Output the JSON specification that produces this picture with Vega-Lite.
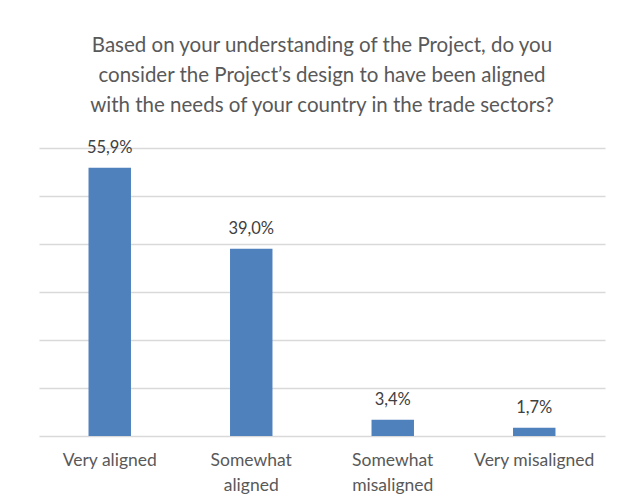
{
  "$schema": "https://vega.github.io/schema/vega-lite/v6.json",
  "autosize": "none",
  "padding": {"left": 39, "top": 148, "right": 17, "bottom": 66},
  "width": 566,
  "height": 288,
  "background": "white",
  "config": {"font": "Lato", "view": {"stroke": null}},
  "title": {
    "text": ["Based on your understanding of the Project, do you", "consider the Project’s design to have been aligned", "with the needs of your country in the trade sectors?"],
    "fontSize": 20.5,
    "fontWeight": "normal",
    "color": "#595959",
    "lineHeight": 30,
    "anchor": "middle",
    "offset": 23
  },
  "data": {
    "values": [
      {"category": "Very aligned", "value": 55.9},
      {"category": "Somewhat aligned", "value": 39.0},
      {"category": "Somewhat misaligned", "value": 3.4},
      {"category": "Very misaligned", "value": 1.7}
    ]
  },
  "transform": [
    {"calculate": "replace(format(datum.value, '.1f'), '.', ',') + '%'", "as": "label"}
  ],
  "encoding": {
    "x": {
      "field": "category",
      "type": "nominal",
      "sort": null,
      "scale": {"paddingInner": 0.7, "paddingOuter": 0.35},
      "axis": {
        "title": null,
        "labelAngle": 0,
        "domain": false,
        "ticks": false,
        "labelFontSize": 17.5,
        "labelColor": "#595959",
        "labelPadding": 15,
        "labelLineHeight": 25,
        "labelExpr": "indexof(datum.label, 'Somewhat') == 0 ? split(datum.label, ' ') : datum.label"
      }
    },
    "y": {
      "field": "value",
      "type": "quantitative",
      "scale": {"domain": [0, 60], "nice": false},
      "axis": {
        "title": null,
        "labels": false,
        "ticks": false,
        "domain": false,
        "values": [0, 10, 20, 30, 40, 50, 60],
        "gridColor": "#d9d9d9",
        "gridWidth": 1.3
      }
    }
  },
  "layer": [
    {"mark": {"type": "bar", "color": "#4f81bd"}},
    {
      "mark": {"type": "text", "baseline": "bottom", "dy": -12, "fontSize": 16.5, "color": "#404040"},
      "encoding": {"text": {"field": "label"}}
    }
  ]
}
